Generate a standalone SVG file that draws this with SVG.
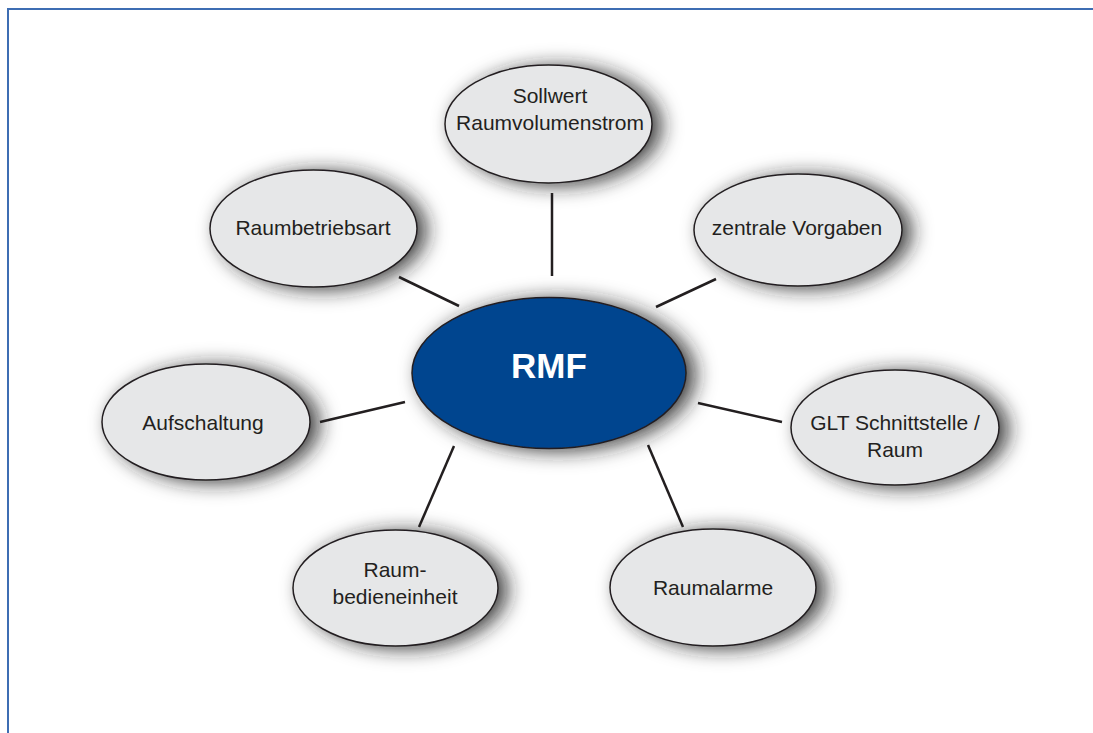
<svg xmlns="http://www.w3.org/2000/svg" width="1093" height="733" viewBox="0 0 1093 733">
<style>
.node{fill:#e6e7e8;stroke:#231f20;stroke-width:1.5;filter:url(#sh)}
.center{fill:#03448f;stroke:#231f20;stroke-width:1.5;filter:url(#sh)}
.lbl{font-family:"Liberation Sans",Arial,sans-serif;font-size:21px;fill:#231f20;text-anchor:middle}
.main{font-family:"Liberation Sans",Arial,sans-serif;font-size:35px;font-weight:bold;fill:#ffffff;text-anchor:middle}
.conn line{stroke:#231f20;stroke-width:2.5;stroke-linecap:butt}
</style>
<defs>
<filter id="sh" x="-40%" y="-50%" width="180%" height="200%">
<feDropShadow dx="9" dy="2" stdDeviation="10" flood-color="#1e1e1e" flood-opacity="0.85"/>
</filter>
</defs>
<rect width="1093" height="733" fill="#ffffff"/>
<path d="M8,733 V9 H1093" fill="none" stroke="#3e6db3" stroke-width="2"/>
<g id="connectors" class="conn">
<line x1="552" y1="193" x2="552" y2="276"/>
<line x1="399" y1="277" x2="459" y2="306"/>
<line x1="656" y1="307" x2="716" y2="279"/>
<line x1="320" y1="422" x2="405" y2="402"/>
<line x1="698" y1="403" x2="782" y2="422"/>
<line x1="454" y1="446" x2="419" y2="527"/>
<line x1="648" y1="445" x2="683" y2="527"/>
</g>
<g id="sollwert">
<ellipse class="node" cx="548.5" cy="124" rx="103.5" ry="59"/>
<text class="lbl" x="550" y="103">Sollwert</text>
<text class="lbl" x="550" y="130">Raumvolumenstrom</text>
</g>
<g id="raumbetriebsart">
<ellipse class="node" cx="313.5" cy="228.5" rx="103.5" ry="58.5"/>
<text class="lbl" x="313" y="235">Raumbetriebsart</text>
</g>
<g id="zentrale">
<ellipse class="node" cx="798" cy="230" rx="104" ry="56"/>
<text class="lbl" x="797" y="235">zentrale Vorgaben</text>
</g>
<g id="rmf">
<ellipse class="center" cx="549" cy="373" rx="137" ry="75.5"/>
<text class="main" x="549" y="378">RMF</text>
</g>
<g id="aufschaltung">
<ellipse class="node" cx="206" cy="422" rx="104" ry="58"/>
<text class="lbl" x="203" y="430">Aufschaltung</text>
</g>
<g id="glt">
<ellipse class="node" cx="895" cy="427.5" rx="104" ry="57.5"/>
<text class="lbl" x="895" y="430">GLT Schnittstelle /</text>
<text class="lbl" x="895" y="457">Raum</text>
</g>
<g id="raumbedieneinheit">
<ellipse class="node" cx="395.5" cy="588" rx="102.5" ry="58"/>
<text class="lbl" x="395" y="577">Raum-</text>
<text class="lbl" x="395" y="604">bedieneinheit</text>
</g>
<g id="raumalarme">
<ellipse class="node" cx="713" cy="587.5" rx="103" ry="58.5"/>
<text class="lbl" x="713" y="595">Raumalarme</text>
</g>
</svg>
